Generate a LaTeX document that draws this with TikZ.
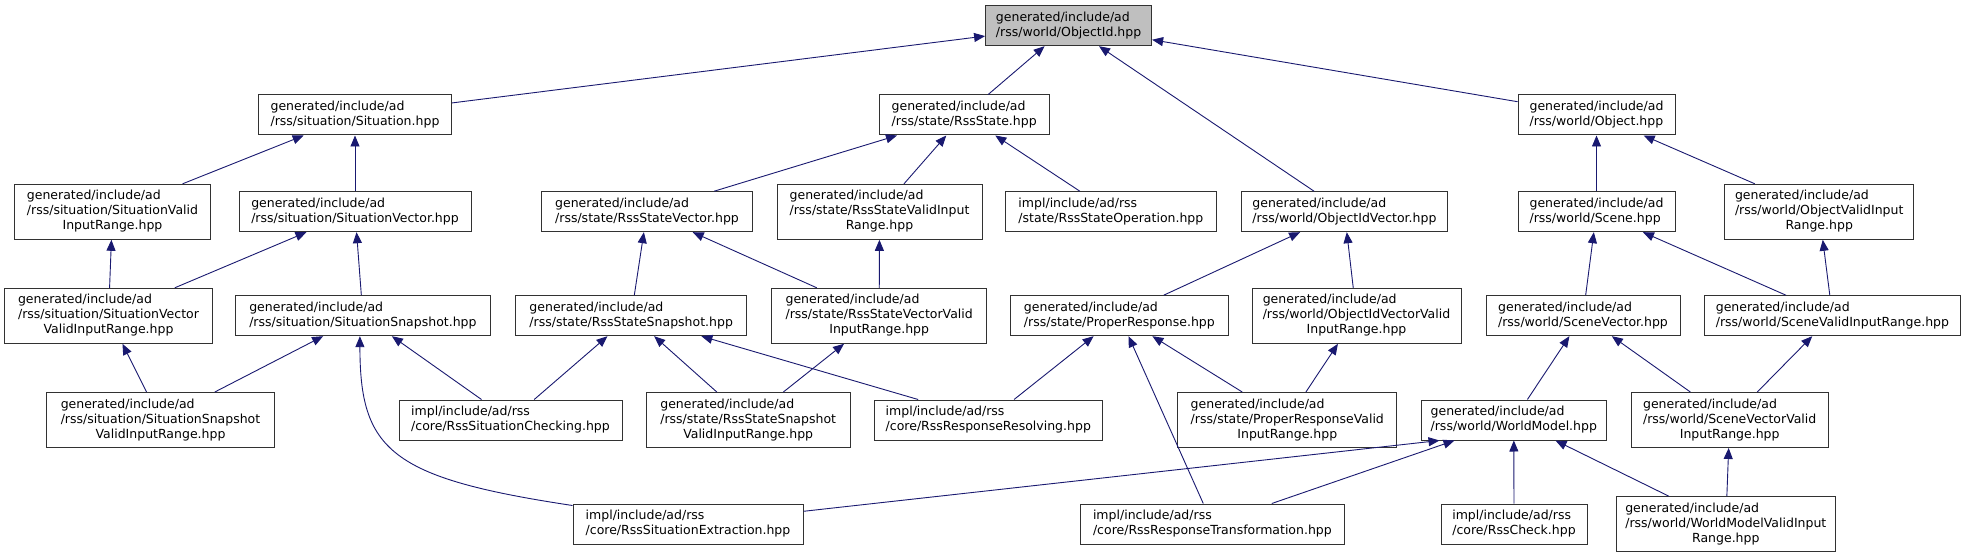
\documentclass[tikz,border=0pt]{standalone}
\usepackage{fontspec}
\setmainfont{DejaVu Sans}
\usetikzlibrary{arrows.meta}
\definecolor{edgeblue}{RGB}{25,25,112}
\definecolor{rootgray}{RGB}{191,191,191}
\definecolor{boxline}{RGB}{50,50,50}

% file label: two left-aligned lines, or a centred third line
\newcommand{\twolines}[2]{\begin{tabular}{@{}l@{}}#1\\#2\end{tabular}}
\newcommand{\threelines}[3]{\begin{tabular}{@{}l@{}}#1\\#2\\\multicolumn{1}{@{}c@{}}{#3}\end{tabular}}

\begin{document}
\begin{tikzpicture}[
  x=1bp, y=-1bp,
  every node/.style={font=\fontsize{12.5bp}{15bp}\selectfont},
  file/.style={draw=boxline, fill=white, line width=1bp, inner sep=0pt, minimum height=40bp},
  tallfile/.style={file, minimum height=55bp},
  rootfile/.style={file, fill=rootgray},
  dep/.style={-{Triangle[length=11bp,width=9bp]}, edgeblue, line width=0.9bp},
]

% ===== Canvas: 1966 x 557, y grows downwards =====
\path[use as bounding box, fill=white] (0,0) rectangle (1966,557);

%% ---- ROW 0: the header itself ----
\node[rootfile, minimum width=166bp] (objid) at (1068.6,25.7)
  {\twolines{generated/include/ad}{/rss/world/ObjectId.hpp}};

%% ---- ROW 1 ----
\node[file, minimum width=193bp] (situation) at (355,115)
  {\twolines{generated/include/ad}{/rss/situation/Situation.hpp}};
\node[file, minimum width=170bp] (rssstate) at (964.2,115)
  {\twolines{generated/include/ad}{/rss/state/RssState.hpp}};
\node[file, minimum width=157bp] (object) at (1596.5,115)
  {\twolines{generated/include/ad}{/rss/world/Object.hpp}};

%% ---- ROW 2 ----
\node[tallfile, minimum width=195bp] (sitvalid) at (112.5,211.8)
  {\threelines{generated/include/ad}{/rss/situation/SituationValid}{InputRange.hpp}};
\node[file, minimum width=232bp] (sitvector) at (355,211.7)
  {\twolines{generated/include/ad}{/rss/situation/SituationVector.hpp}};
\node[file, minimum width=210.6bp] (statevector) at (647,211.7)
  {\twolines{generated/include/ad}{/rss/state/RssStateVector.hpp}};
\node[tallfile, minimum width=205bp] (statevalid) at (879.5,211.8)
  {\threelines{generated/include/ad}{/rss/state/RssStateValidInput}{Range.hpp}};
\node[file, minimum width=210.3bp] (stateop) at (1110.9,211.7)
  {\twolines{impl/include/ad/rss}{/state/RssStateOperation.hpp}};
\node[file, minimum width=206.8bp] (objidvector) at (1344.4,211.7)
  {\twolines{generated/include/ad}{/rss/world/ObjectIdVector.hpp}};
\node[file, minimum width=157bp] (scene) at (1596.5,211.7)
  {\twolines{generated/include/ad}{/rss/world/Scene.hpp}};
\node[tallfile, minimum width=189bp] (objvalid) at (1819.2,211.8)
  {\threelines{generated/include/ad}{/rss/world/ObjectValidInput}{Range.hpp}};

%% ---- ROW 3 ----
\node[tallfile, minimum width=207bp] (sitvecvalid) at (108.5,315.8)
  {\threelines{generated/include/ad}{/rss/situation/SituationVector}{ValidInputRange.hpp}};
\node[file, minimum width=254.3bp] (sitsnapshot) at (362.9,315.7)
  {\twolines{generated/include/ad}{/rss/situation/SituationSnapshot.hpp}};
\node[file, minimum width=231.2bp] (statesnapshot) at (631.2,315.7)
  {\twolines{generated/include/ad}{/rss/state/RssStateSnapshot.hpp}};
\node[tallfile, minimum width=215bp] (statevecvalid) at (879.2,315.8)
  {\threelines{generated/include/ad}{/rss/state/RssStateVectorValid}{InputRange.hpp}};
\node[file, minimum width=217.3bp] (properresp) at (1119.4,315.7)
  {\twolines{generated/include/ad}{/rss/state/ProperResponse.hpp}};
\node[tallfile, minimum width=209bp] (objidvecvalid) at (1356.5,315.8)
  {\threelines{generated/include/ad}{/rss/world/ObjectIdVectorValid}{InputRange.hpp}};
\node[file, minimum width=194bp] (scenevector) at (1583,315.7)
  {\twolines{generated/include/ad}{/rss/world/SceneVector.hpp}};
\node[file, minimum width=256bp] (scenevalid) at (1832.4,315.7)
  {\twolines{generated/include/ad}{/rss/world/SceneValidInputRange.hpp}};

%% ---- ROW 4 ----
\node[tallfile, minimum width=227bp] (sitsnapvalid) at (160.5,420)
  {\threelines{generated/include/ad}{/rss/situation/SituationSnapshot}{ValidInputRange.hpp}};
\node[file, minimum width=223bp] (sitchecking) at (510.5,420)
  {\twolines{impl/include/ad/rss}{/core/RssSituationChecking.hpp}};
\node[tallfile, minimum width=204.3bp] (statesnapvalid) at (748.2,420)
  {\threelines{generated/include/ad}{/rss/state/RssStateSnapshot}{ValidInputRange.hpp}};
\node[file, minimum width=228.5bp] (respresolving) at (988.3,420)
  {\twolines{impl/include/ad/rss}{/core/RssResponseResolving.hpp}};
\node[tallfile, minimum width=219bp] (proprespvalid) at (1287.3,420)
  {\threelines{generated/include/ad}{/rss/state/ProperResponseValid}{InputRange.hpp}};
\node[file, minimum width=185.6bp] (worldmodel) at (1513.8,420)
  {\twolines{generated/include/ad}{/rss/world/WorldModel.hpp}};
\node[tallfile, minimum width=197.3bp] (scenevecvalid) at (1729.7,420)
  {\threelines{generated/include/ad}{/rss/world/SceneVectorValid}{InputRange.hpp}};

%% ---- ROW 5 ----
\node[file, minimum width=230bp] (sitextraction) at (688,524)
  {\twolines{impl/include/ad/rss}{/core/RssSituationExtraction.hpp}};
\node[file, minimum width=263.6bp] (resptransform) at (1212.4,524)
  {\twolines{impl/include/ad/rss}{/core/RssResponseTransformation.hpp}};
\node[file, minimum width=146bp] (rsscheck) at (1514,524)
  {\twolines{impl/include/ad/rss}{/core/RssCheck.hpp}};
\node[tallfile, minimum width=219.5bp] (worldmodelvalid) at (1725.8,524.2)
  {\threelines{generated/include/ad}{/rss/world/WorldModelValidInput}{Range.hpp}};

%% ---- INCLUDE EDGES (arrow points at the included file) ----
\draw[dep] (situation) -- (objid);
\draw[dep] (rssstate) -- (objid);
\draw[dep] (objidvector) -- (objid);
\draw[dep] (object) -- (objid);

\draw[dep] (sitvalid) -- (situation);
\draw[dep] (sitvector) -- (situation);
\draw[dep] (statevector) -- (rssstate);
\draw[dep] (statevalid) -- (rssstate);
\draw[dep] (stateop) -- (rssstate);
\draw[dep] (scene) -- (object);
\draw[dep] (objvalid) -- (object);

\draw[dep] (sitvecvalid) -- (sitvalid);
\draw[dep] (sitvecvalid) -- (sitvector);
\draw[dep] (sitsnapshot) -- (sitvector);
\draw[dep] (statesnapshot) -- (statevector);
\draw[dep] (statevecvalid) -- (statevector);
\draw[dep] (statevecvalid) -- (statevalid);
\draw[dep] (properresp) -- (objidvector);
\draw[dep] (objidvecvalid) -- (objidvector);
\draw[dep] (scenevector) -- (scene);
\draw[dep] (scenevalid) -- (scene);
\draw[dep] (scenevalid) -- (objvalid);

\draw[dep] (sitsnapvalid) -- (sitvecvalid);
\draw[dep] (sitsnapvalid) -- (sitsnapshot);
\draw[dep] (sitchecking) -- (sitsnapshot);
\draw[dep] (sitchecking) -- (statesnapshot);
\draw[dep] (statesnapvalid) -- (statesnapshot);
\draw[dep] (statesnapvalid) -- (statevecvalid);
\draw[dep] (respresolving) -- (statesnapshot);
\draw[dep] (respresolving) -- (properresp);
\draw[dep] (proprespvalid) -- (properresp);
\draw[dep] (proprespvalid) -- (objidvecvalid);
\draw[dep] (worldmodel) -- (scenevector);
\draw[dep] (scenevecvalid) -- (scenevector);
\draw[dep] (scenevecvalid) -- (scenevalid);

% long one bending round under the snapshot box
\draw[dep] ([yshift=-2bp]sitextraction.north west)
  .. controls (390,478) and (360,450) .. ([xshift=-3bp]sitsnapshot.south);
\draw[dep] (sitextraction) -- ([xshift=19bp]worldmodel.south west);
\draw[dep] (resptransform) -- (properresp);
\draw[dep] (resptransform) -- (worldmodel);
\draw[dep] (rsscheck) -- (worldmodel);
\draw[dep] (worldmodelvalid) -- (worldmodel);
\draw[dep] (worldmodelvalid) -- (scenevecvalid);

\end{tikzpicture}
\end{document}
